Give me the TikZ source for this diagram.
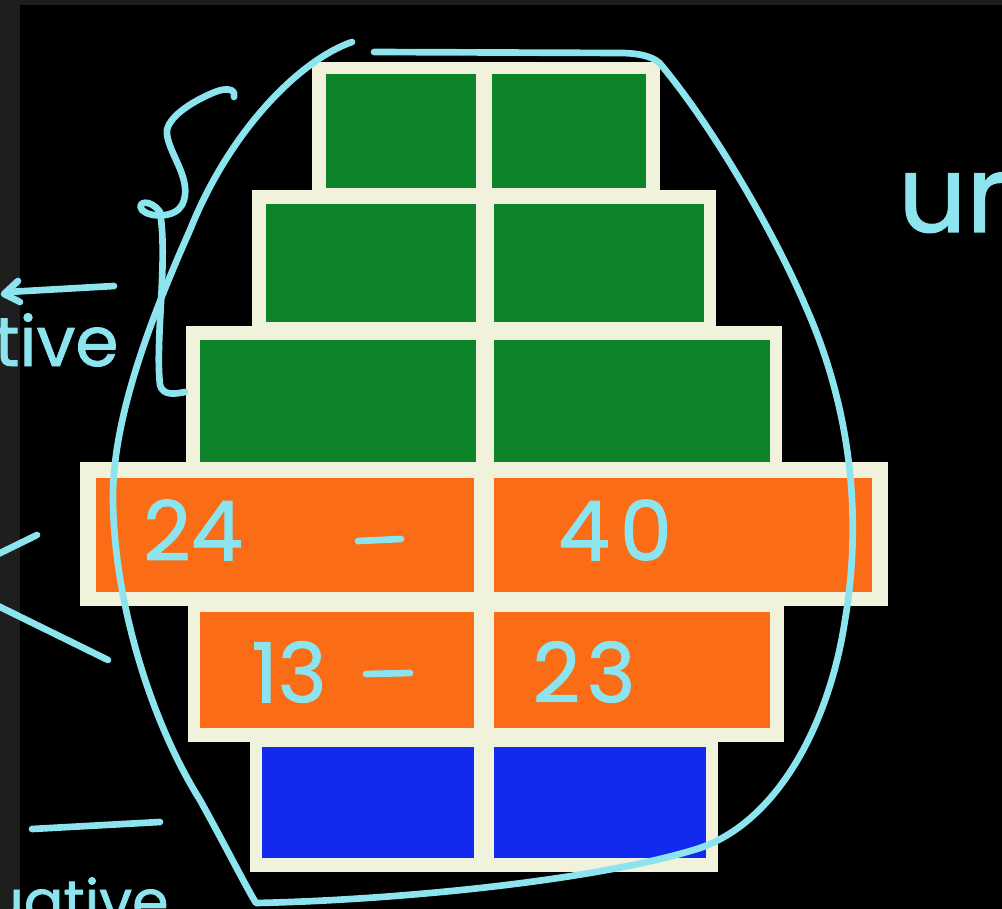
\documentclass[tikz,border=0pt]{standalone}
\usepackage{fontspec}
\newfontfamily\hand{Poppins}[FakeBold=1.2]
\definecolor{cream}{RGB}{240,242,220}
\definecolor{cellgreen}{RGB}{14,132,42}
\definecolor{cellorange}{RGB}{250,108,22}
\definecolor{cellblue}{RGB}{18,42,238}
\definecolor{ink}{RGB}{140,228,238}
\definecolor{edge}{RGB}{30,30,30}
\tikzset{
  ink/.style={draw=ink, line width=5pt, line cap=round, line join=round},
  handtext/.style={text=ink, font=\hand\fontsize{62}{66}\selectfont, inner sep=0pt},
  smalltext/.style={text=ink, font=\hand\fontsize{52}{56}\selectfont, inner sep=0pt},
}
\begin{document}
\begin{tikzpicture}[x=0.75pt, y=-0.75pt]
\useasboundingbox (0,0) rectangle (1002,909);
\clip (0,0) rectangle (1002,909);
\fill[black] (0,0) rectangle (1002,909);
\fill[edge] (0,0) rectangle (20,909);
\fill[edge] (0,0) rectangle (1002,5);
% bars: outer cream then cells
\fill[cream] (312,62) rectangle (660,200);
\fill[cream] (252,190) rectangle (716,332);
\fill[cream] (186,326) rectangle (782,470);
\fill[cream] (80,462) rectangle (888,606);
\fill[cream] (188,598) rectangle (784,742);
\fill[cream] (250,735) rectangle (718,872);
\fill[cellgreen] (326,74) rectangle (476,188);
\fill[cellgreen] (492,74) rectangle (646,188);
\fill[cellgreen] (266,204) rectangle (476,322);
\fill[cellgreen] (494,204) rectangle (704,322);
\fill[cellgreen] (200,340) rectangle (476,462);
\fill[cellgreen] (494,340) rectangle (770,462);
\fill[cellorange] (96,478) rectangle (474,592);
\fill[cellorange] (494,478) rectangle (872,592);
\fill[cellorange] (200,612) rectangle (474,728);
\fill[cellorange] (494,612) rectangle (770,728);
\fill[cellblue] (262,747) rectangle (474,858);
\fill[cellblue] (494,747) rectangle (706,858);
% labels
\node[handtext] (t24) at (193,530) {24};
\node[handtext] (t40) at (615,530) {4\hspace{0.12em}0};
\node[handtext] (t13) at (289,672) {13};
\node[handtext] (t23) at (584,672) {2\hspace{0.08em}3};
\coordinate (d1a) at (358,541); \coordinate (d1b) at (401,539);
\coordinate (d2a) at (366,674); \coordinate (d2b) at (410,673);
\draw[ink] (d1a) -- (d1b);
\draw[ink] (d2a) -- (d2b);
% big loop
\coordinate (lt) at (352,42);
\coordinate (lb) at (256,903);
\draw[ink] (lt) .. controls (300,60) and (230,130) .. (190,230)
  .. controls (150,320) and (112,420) .. (113,500)
  .. controls (114,600) and (150,720) .. (200,800)
  .. controls (225,845) and (245,885) .. (lb)
  .. controls (400,900) and (600,880) .. (700,848)
  .. controls (780,820) and (830,720) .. (845,620)
  .. controls (862,520) and (852,410) .. (805,305)
  .. controls (775,235) and (715,130) .. (662,66)
  .. controls (656,57) and (640,53) .. (620,53)
  -- (374,52);
% brace
\coordinate (br1) at (234,97);
\draw[ink] (br1) .. controls (236,88) and (225,88) .. (215,92)
  .. controls (195,100) and (170,115) .. (167,130)
  .. controls (165,150) and (195,180) .. (182,205)
  .. controls (175,218) and (150,218) .. (142,210)
  .. controls (136,202) and (150,198) .. (160,212)
  .. controls (168,260) and (155,340) .. (160,385)
  .. controls (163,396) and (175,394) .. (185,392);
% left annotations
\node[smalltext, anchor=base west] (ttive) at (-6,366) {tive};
\coordinate (a1) at (8,292); \coordinate (a2) at (114,286);
\draw[ink] (a2) -- (a1);
\draw[ink] (18,281) -- (4,294) -- (20,302);
\coordinate (c1) at (37,535); \coordinate (c2) at (-10,558);
\coordinate (c3) at (-10,602); \coordinate (c4) at (108,660);
\draw[ink] (c1) -- (c2);
\draw[ink] (c3) -- (c4);
\coordinate (e1) at (32,829); \coordinate (e2) at (160,822);
\draw[ink] (e1) -- (e2);
\node[text=ink, font=\hand\fontsize{44}{48}\selectfont, inner sep=0pt, anchor=base west] (tuative) at (-14,922) {uative};
% right annotation
\node[text=ink, font=\hand\fontsize{80}{84}\selectfont, inner sep=0pt, anchor=base west] (tur) at (898,232) {ur};
\end{tikzpicture}
\end{document}
